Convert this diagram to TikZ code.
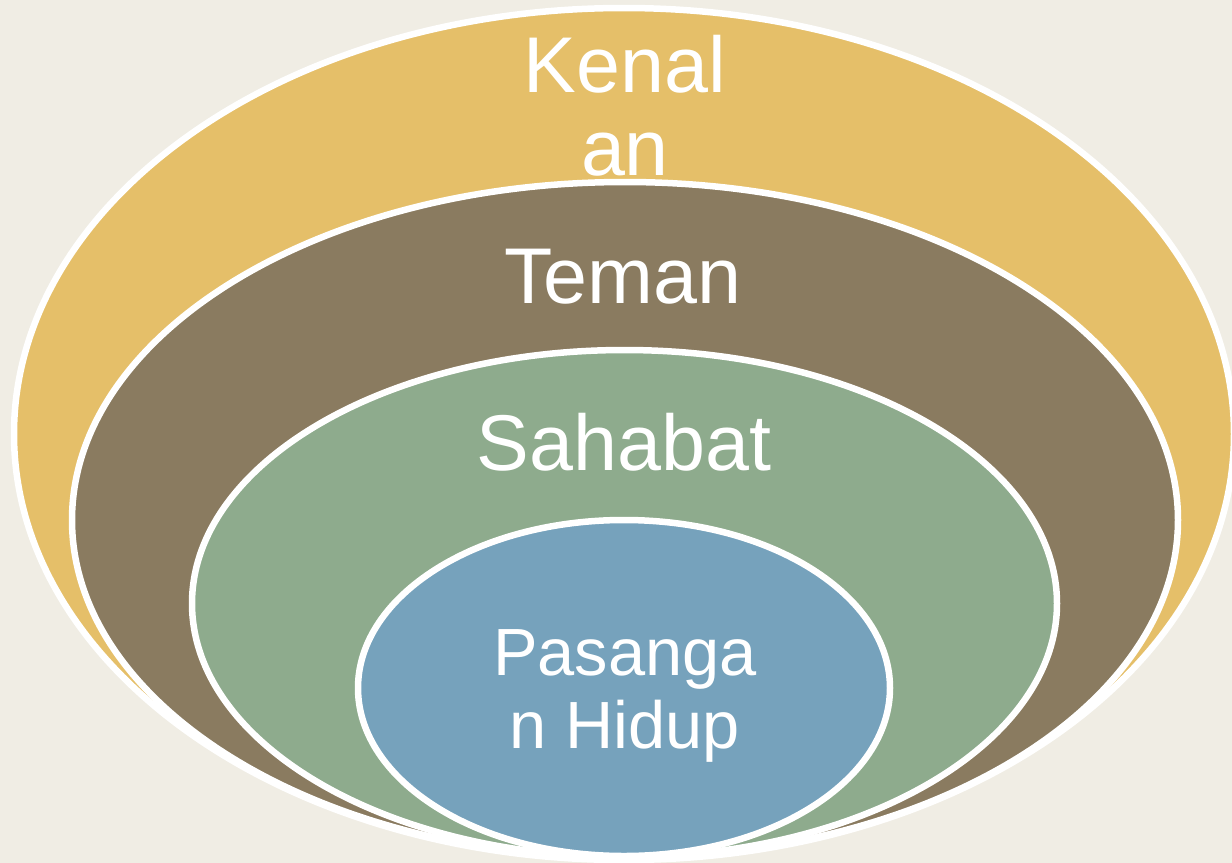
\documentclass[tikz,border=0pt]{standalone}
\usepackage{fontspec}
\setmainfont{Liberation Sans}
\definecolor{bgbeige}{HTML}{F0EDE4}
\definecolor{kenalgold}{HTML}{E5BF69}
\definecolor{temanbrown}{HTML}{8A7B60}
\definecolor{sahabatgreen}{HTML}{8EAB8D}
\definecolor{pasanganblue}{HTML}{76A2BC}
\begin{document}
\begin{tikzpicture}[x=0.02cm,y=-0.02cm,
  ring/.style={fill=#1,draw=white,line width=0.13cm},
  label/.style={text=white,inner sep=0pt,anchor=base,align=center,font=\fontsize{45}{47}\selectfont},
  small label/.style={label,font=\fontsize{38}{41.5}\selectfont}]
  \fill[bgbeige] (0,0) rectangle (1232,863);
  \useasboundingbox (0,0) rectangle (1232,863);
  \clip (0,0) rectangle (1232,863);
  \draw[ring=kenalgold] (624,434) ellipse (610 and 426);
  \node[label] (kenalan) at (625,175) {Kenal\\an};
  \draw[ring=temanbrown] (625,520) ellipse (553 and 338);
  \node[label] (teman) at (623,303) {Teman};
  \draw[ring=sahabatgreen] (624.5,603.5) ellipse (432.5 and 253.5);
  \node[label] (sahabat) at (624,470) {Sahabat};
  \draw[ring=pasanganblue] (624,688) ellipse (266 and 168);
  \node[small label] (pasangan) at (625,748) {Pasanga\\n Hidup};
\end{tikzpicture}
\end{document}
